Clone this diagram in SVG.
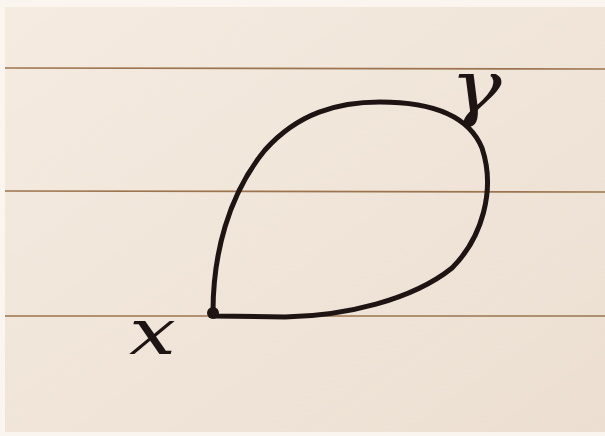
<svg xmlns="http://www.w3.org/2000/svg" width="605" height="436" viewBox="0 0 605 436">
<defs>
<style>
.rule{stroke:#9c7450;stroke-width:1.6;fill:none}
.ink{stroke:#1f1414;stroke-width:5;fill:none;stroke-linecap:round;stroke-linejoin:round}
.lbl{font-family:"DejaVu Serif","Liberation Serif",serif;font-style:italic;fill:#1f1414}
</style>
<linearGradient id="paper" x1="0" y1="0" x2="1" y2="1">
<stop offset="0" stop-color="#f5ebe0"/>
<stop offset="1" stop-color="#ecdfd2"/>
</linearGradient>
</defs>
<rect x="0" y="0" width="605" height="436" fill="#fbf5ef"/>
<rect x="5" y="7" width="600" height="425" fill="url(#paper)"/>
<g id="rules">
<line class="rule" x1="5" y1="68" x2="605" y2="69"/>
<line class="rule" x1="5" y1="191" x2="605" y2="192"/>
<line class="rule" x1="5" y1="316" x2="605" y2="316"/>
</g>
<g id="loop">
<path class="ink" d="M 213 312 C 213 255, 228 195, 265 150 C 298 113, 338 102, 380 102 C 430 102, 468 114, 482 148 C 496 190, 482 238, 452 268 C 412 300, 345 316, 285 317 L 214 316"/>
<circle cx="213" cy="313" r="6" fill="#1f1414"/>
</g>
<g id="label-x">
<text class="lbl" x="0" y="0" font-size="64" transform="translate(129,354) scale(1.3,1)">x</text>
</g>
<g id="label-gamma">
<text class="lbl" x="0" y="0" font-size="72" transform="translate(450,112) scale(1.2,1)">γ</text>
</g>
</svg>
